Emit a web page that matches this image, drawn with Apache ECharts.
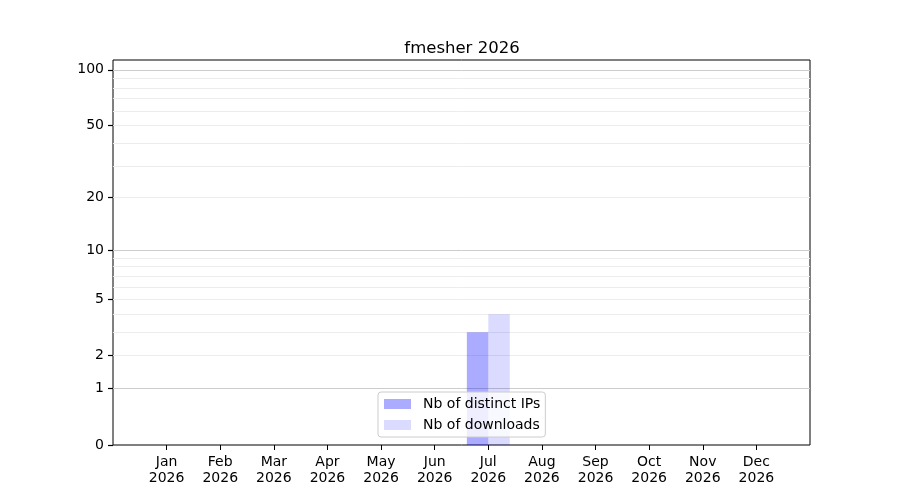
<!DOCTYPE html>
<html>
<head>
<meta charset="utf-8">
<script src="https://cdn.jsdelivr.net/npm/echarts@6/dist/echarts.min.js"></script>
<style>
  html, body { margin: 0; padding: 0; background: #fff; }
  #chart { width: 900px; height: 500px; }
</style>
</head>
<body>
<div id="chart"></div>
<script>
const months = ['Jan', 'Feb', 'Mar', 'Apr', 'May', 'Jun', 'Jul', 'Aug', 'Sep', 'Oct', 'Nov', 'Dec'];
const year = '2026';
const distinctIps = [0, 0, 0, 0, 0, 0, 3, 0, 0, 0, 0, 0];
const downloads = [0, 0, 0, 0, 0, 0, 4, 0, 0, 0, 0, 0];
const yTickLabels = [0, 1, 2, 5, 10, 20, 50, 100];
const majorGrid = [1, 10, 100];
const minorGrid = [2, 3, 4, 5, 6, 7, 8, 9, 20, 30, 40, 50, 60, 70, 80, 90];

const font = 'DejaVu Sans';

// symlog-like axis: plot 1 + value on a log axis
const shift = v => (v == null ? null : v + 1);

// one empty slot each side, like the matplotlib x limits
const categories = [''].concat(months.map(m => m + '\n' + year), ['']);
const pad = arr => [null].concat(arr.map(shift), [null]);

const markData = [];
majorGrid.forEach(v => {
    markData.push({ yAxis: shift(v), lineStyle: { color: '#cccccc', width: 1, type: 'solid' } });
});
minorGrid.forEach(v => {
    markData.push({ yAxis: shift(v), lineStyle: { color: '#ececec', width: 1, type: 'solid' } });
});
yTickLabels.forEach(v => {
    // little tick outside the frame, with its label
    markData.push([
        {
            coord: [0, shift(v)], x: 108,
            lineStyle: { color: '#000', width: 1.2, opacity: 1, type: 'solid' },
            label: {
                show: true, position: 'start', distance: 4, formatter: String(v),
                color: '#000', fontSize: 14, fontFamily: font
            }
        },
        { coord: [0, shift(v)], x: 113 }
    ]);
});

const chart = echarts.init(document.getElementById('chart'));

chart.setOption({
    animation: false,
    title: {
        text: 'fmesher 2026',
        left: 457,
        textAlign: 'center',
        top: 35,
        textStyle: { fontSize: 16.5, fontWeight: 'normal', color: '#000', fontFamily: font }
    },
    grid: {
        left: 113, right: 90, top: 60, bottom: 55,
        show: true, borderColor: '#000', borderWidth: 1, backgroundColor: 'transparent'
    },
    legend: {
        orient: 'vertical',
        left: 378,
        top: 392,
        data: ['Nb of distinct IPs', 'Nb of downloads'],
        itemWidth: 27,
        itemHeight: 10,
        itemGap: 7,
        padding: [5, 5, 5, 6],
        backgroundColor: 'rgba(255,255,255,0.8)',
        borderColor: '#cccccc',
        borderWidth: 1,
        borderRadius: 3,
        icon: 'rect',
        textStyle: { fontSize: 14, color: '#000', fontFamily: font, padding: [0, 0, 0, 7] }
    },
    xAxis: {
        type: 'category',
        data: categories,
        boundaryGap: false,
        axisLine: { show: false },
        axisTick: {
            show: true, length: 5, interval: (i) => i > 0 && i < categories.length - 1,
            lineStyle: { color: '#000' }
        },
        axisLabel: {
            interval: 0, margin: 9, color: '#000', fontSize: 14, lineHeight: 16, fontFamily: font
        },
        splitLine: { show: false }
    },
    yAxis: {
        type: 'log',
        logBase: 10,
        min: 1,
        max: 114,
        axisLine: { show: false },
        axisTick: { show: false },
        axisLabel: { show: false },
        splitLine: { show: false },
        minorSplitLine: { show: false }
    },
    series: [
        {
            name: 'Nb of distinct IPs',
            type: 'bar',
            data: pad(distinctIps),
            barWidth: '40%',
            barGap: '0%',
            itemStyle: { color: 'rgba(0,0,255,0.33)' },
            markLine: {
                silent: true,
                z: 1,
                symbol: ['none', 'none'],
                label: { show: false },
                lineStyle: { color: '#000', width: 1, type: 'solid', opacity: 1 },
                emphasis: { disabled: true },
                data: markData
            }
        },
        {
            name: 'Nb of downloads',
            type: 'bar',
            data: pad(downloads),
            barWidth: '40%',
            barGap: '0%',
            itemStyle: { color: 'rgba(0,0,255,0.14)' }
        }
    ]
});
</script>
</body>
</html>
